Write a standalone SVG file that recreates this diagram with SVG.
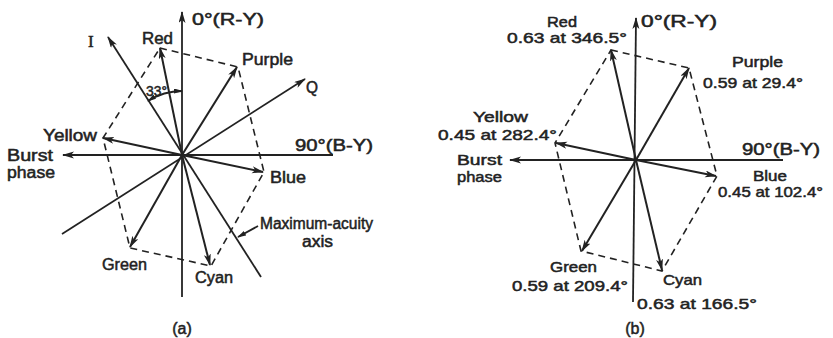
<svg xmlns="http://www.w3.org/2000/svg" width="833" height="338" viewBox="0 0 833 338">
<defs>
<marker id="ah" markerUnits="userSpaceOnUse" markerWidth="12" markerHeight="8" refX="11" refY="3.5" orient="auto">
<path d="M0,0 L12,3.5 L0,7 L3,3.5 z" fill="#222"/>
</marker>
<marker id="ahs" markerUnits="userSpaceOnUse" markerWidth="9" markerHeight="6" refX="8" refY="2.5" orient="auto">
<path d="M0,0 L9,2.5 L0,5 z" fill="#222"/>
</marker>
<marker id="ahstart" markerUnits="userSpaceOnUse" markerWidth="9" markerHeight="6" refX="8" refY="2.5" orient="auto-start-reverse">
<path d="M0,0 L9,2.5 L0,5 z" fill="#222"/>
</marker>
</defs>
<style>
.ax{stroke:#222;stroke-width:1.8;fill:none}
.vec{stroke:#222;stroke-width:2;fill:none;marker-end:url(#ah)}
.dash{stroke:#222;stroke-width:1.6;fill:none;stroke-dasharray:7 5}
text{font-family:"Liberation Sans",Arial,sans-serif;font-size:16px;fill:#222;stroke:#222;stroke-width:0.5}
.sm{font-size:15px}
.cap{text-anchor:middle}
</style>
<rect width="833" height="338" fill="#fff"/>

<g id="diagram-a">
<g id="connectors-a">
<line class="ax" x1="182" y1="297" x2="182" y2="12" marker-end="url(#ah)"/>
<line class="ax" x1="333" y1="155" x2="63" y2="155" marker-end="url(#ah)"/>
<line class="ax" x1="62" y1="234" x2="305" y2="79" marker-end="url(#ah)"/>
<line class="ax" x1="261" y1="277" x2="108" y2="37" marker-end="url(#ah)"/>
<line class="vec" x1="182" y1="155" x2="160" y2="48"/>
<line class="vec" x1="182" y1="155" x2="237" y2="67"/>
<line class="vec" x1="182" y1="155" x2="103" y2="138"/>
<line class="vec" x1="182" y1="155" x2="263" y2="172"/>
<line class="vec" x1="182" y1="155" x2="130" y2="247"/>
<line class="vec" x1="182" y1="155" x2="210" y2="265"/>
<polygon class="dash" points="160,48 238,67 264,172 211,266 130,248 103,138"/>
<path class="ax" stroke-width="1.5" d="M148,101 A64,64 0 0 1 182,91" marker-start="url(#ahstart)" marker-end="url(#ahs)"/>
<line class="ax" stroke-width="1.5" x1="258" y1="226" x2="238" y2="237" marker-end="url(#ahs)"/>
</g>
<g id="labels-a">
<text x="192" y="25" textLength="72" lengthAdjust="spacingAndGlyphs">0°(R-Y)</text>
<text x="88" y="47" style="font-family:'Liberation Serif',serif;font-size:17px">I</text>
<text x="142" y="44" textLength="31" lengthAdjust="spacingAndGlyphs">Red</text>
<text x="242" y="65" textLength="51" lengthAdjust="spacingAndGlyphs">Purple</text>
<text x="306" y="93" textLength="12" lengthAdjust="spacingAndGlyphs">Q</text>
<text x="43" y="141" textLength="54" lengthAdjust="spacingAndGlyphs">Yellow</text>
<text x="7" y="161" textLength="46" lengthAdjust="spacingAndGlyphs">Burst</text>
<text x="7" y="178" textLength="48" lengthAdjust="spacingAndGlyphs">phase</text>
<text x="295" y="151" textLength="78" lengthAdjust="spacingAndGlyphs">90°(B-Y)</text>
<text x="270" y="183" textLength="36" lengthAdjust="spacingAndGlyphs">Blue</text>
<text x="260" y="229" textLength="113" lengthAdjust="spacingAndGlyphs">Maximum-acuity</text>
<text x="302" y="247" textLength="31" lengthAdjust="spacingAndGlyphs">axis</text>
<text x="102" y="270" textLength="45" lengthAdjust="spacingAndGlyphs">Green</text>
<text x="195" y="283" textLength="38" lengthAdjust="spacingAndGlyphs">Cyan</text>
<text x="182" y="334" class="cap">(a)</text>
<text x="146" y="96" class="sm" textLength="21" lengthAdjust="spacingAndGlyphs">33°</text>
</g>
</g>

<g id="diagram-b">
<g id="connectors-b">
<line class="ax" x1="633" y1="302" x2="636" y2="18" marker-end="url(#ah)"/>
<line class="ax" x1="783" y1="160" x2="510" y2="160" marker-end="url(#ah)"/>
<line class="vec" x1="636" y1="160" x2="611" y2="50"/>
<line class="vec" x1="636" y1="160" x2="689" y2="68"/>
<line class="vec" x1="636" y1="160" x2="556" y2="143"/>
<line class="vec" x1="636" y1="160" x2="716" y2="176"/>
<line class="vec" x1="636" y1="160" x2="582" y2="251"/>
<line class="vec" x1="636" y1="160" x2="662" y2="270"/>
<polygon class="dash" points="611,50 689,68 717,176 662,271 581,251 555,143"/>
</g>
<g id="labels-b">
<text x="547" y="27" class="sm" textLength="30" lengthAdjust="spacingAndGlyphs">Red</text>
<text x="507" y="43" class="sm" textLength="120" lengthAdjust="spacingAndGlyphs">0.63 at 346.5°</text>
<text x="641" y="27" textLength="76" lengthAdjust="spacingAndGlyphs">0°(R-Y)</text>
<text x="732" y="67" class="sm" textLength="51" lengthAdjust="spacingAndGlyphs">Purple</text>
<text x="703" y="88" class="sm" textLength="100" lengthAdjust="spacingAndGlyphs">0.59 at 29.4°</text>
<text x="473" y="122" class="sm" textLength="55" lengthAdjust="spacingAndGlyphs">Yellow</text>
<text x="438" y="140" class="sm" textLength="119" lengthAdjust="spacingAndGlyphs">0.45 at 282.4°</text>
<text x="457" y="165" class="sm" textLength="45" lengthAdjust="spacingAndGlyphs">Burst</text>
<text x="457" y="182" class="sm" textLength="45" lengthAdjust="spacingAndGlyphs">phase</text>
<text x="742" y="155" textLength="78" lengthAdjust="spacingAndGlyphs">90°(B-Y)</text>
<text x="753" y="181" class="sm" textLength="34" lengthAdjust="spacingAndGlyphs">Blue</text>
<text x="718" y="197" class="sm" textLength="105" lengthAdjust="spacingAndGlyphs">0.45 at 102.4°</text>
<text x="550" y="272" class="sm" textLength="47" lengthAdjust="spacingAndGlyphs">Green</text>
<text x="512" y="291" class="sm" textLength="116" lengthAdjust="spacingAndGlyphs">0.59 at 209.4°</text>
<text x="663" y="285" class="sm" textLength="39" lengthAdjust="spacingAndGlyphs">Cyan</text>
<text x="637" y="309" class="sm" textLength="120" lengthAdjust="spacingAndGlyphs">0.63 at 166.5°</text>
<text x="635" y="334" class="cap">(b)</text>
</g>
</g>
</svg>
